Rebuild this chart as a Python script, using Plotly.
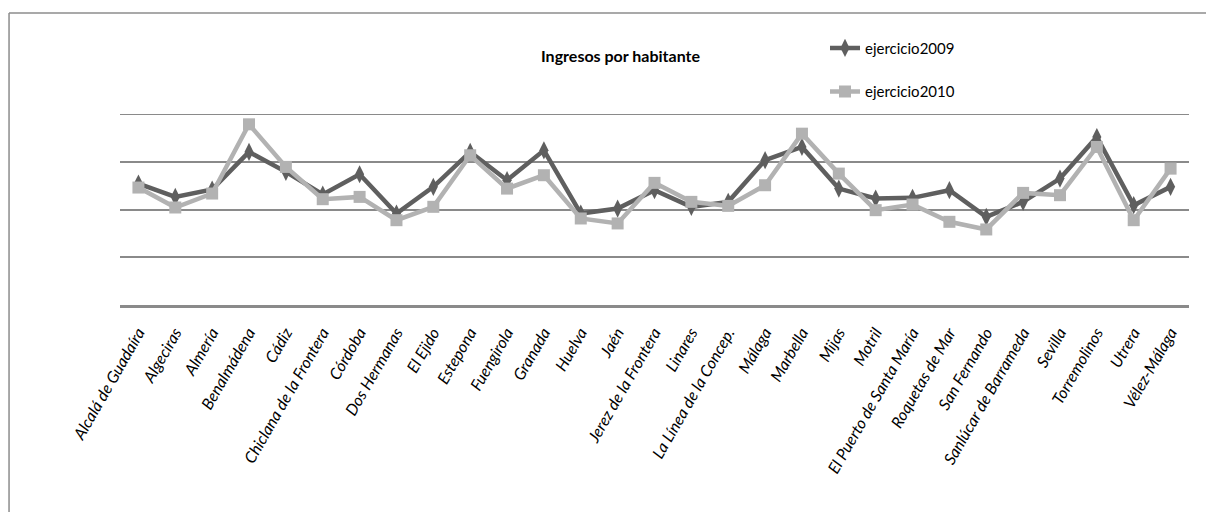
import plotly.graph_objects as go

municipios = ["Alcalá de Guadaíra", "Algeciras", "Almería", "Benalmádena", "Cádiz",
              "Chiclana de la Frontera", "Córdoba", "Dos Hermanas", "El Ejido", "Estepona",
              "Fuengirola", "Granada", "Huelva", "Jaén", "Jerez de la Frontera", "Linares",
              "La Línea de la Concep.", "Málaga", "Marbella", "Mijas", "Motril",
              "El Puerto de Santa María", "Roquetas de Mar", "San Fernando",
              "Sanlúcar de Barrameda", "Sevilla", "Torremolinos", "Utrera", "Vélez-Málaga"]

ejercicio_2009 = [1272, 1132, 1209, 1603, 1394, 1157, 1369, 958, 1237, 1603,
                  1307, 1620, 958, 1010, 1202, 1028, 1080, 1516, 1655, 1219,
                  1115, 1122, 1202, 923, 1080, 1324, 1759, 1045, 1237]
ejercicio_2010 = [1230, 1021, 1167, 1892, 1446, 1108, 1132, 888, 1028, 1568,
                  1219, 1359, 906, 854, 1279, 1080, 1038, 1254, 1794, 1376,
                  993, 1052, 871, 791, 1174, 1150, 1655, 888, 1428]

y_ticks = [0, 500, 1000, 1500, 2000]

FONT = "Lato, Liberation Sans, Arial, sans-serif"
GRID = "#8a8a8a"
BORDER = "#8c8c8c"

fig = go.Figure()
fig.add_trace(go.Scatter(
    x=municipios, y=ejercicio_2009, name="ejercicio2009", mode="lines+markers",
    line=dict(color="#5f5f5f", width=4.5),
    marker=dict(symbol="diamond-tall", size=13, color="#5f5f5f"),
    legendgroup="a"))
fig.add_trace(go.Scatter(
    x=municipios, y=ejercicio_2010, name="ejercicio2010", mode="lines+markers",
    line=dict(color="#b2b2b2", width=4.5),
    marker=dict(symbol="square", size=12, color="#b2b2b2"),
    legendgroup="b"))

fig.update_layout(
    width=1198, height=504,
    margin=dict(l=112, r=17, t=106, b=207),
    paper_bgcolor="white", plot_bgcolor="white",
    font=dict(family=FONT, color="black"),
    showlegend=True,
    legend=dict(x=0.6595, y=1.431, xanchor="left", yanchor="top",
                font=dict(size=15, family=FONT), tracegroupgap=21,
                itemwidth=30, bgcolor="rgba(0,0,0,0)"),
    annotations=[dict(text="<b>Ingresos por habitante</b>", x=0.468, y=1.304,
                      xref="paper", yref="paper", showarrow=False,
                      xanchor="center", yanchor="middle",
                      font=dict(size=16, family=FONT, color="black"))],
    shapes=[dict(type="line", xref="paper", yref="paper",
                 x0=-0.1038, x1=1.05, y0=1.529, y1=1.529,
                 line=dict(color=BORDER, width=1.5), layer="below"),
            dict(type="line", xref="paper", yref="paper",
                 x0=-0.1038, x1=-0.1038, y0=-1.2, y1=1.529,
                 line=dict(color=BORDER, width=1.5), layer="below"),
            dict(type="line", xref="paper", yref="y", x0=0, x1=1,
                 y0=y_ticks[-1], y1=y_ticks[-1],
                 line=dict(color=GRID, width=2), layer="below")],
)
fig.update_xaxes(showgrid=False, tickangle=-60, ticks="", showline=True,
                 linecolor=GRID, linewidth=3, ticklabelstandoff=9,
                 tickfont=dict(size=16, family=FONT, style="italic"),
                 range=[-0.5, len(municipios) - 0.5])
fig.update_yaxes(range=[0, 2000], tickvals=y_ticks, showticklabels=False,
                 showgrid=True, gridcolor=GRID, gridwidth=2,
                 zeroline=False, showline=False)

fig.write_html("out.html")
